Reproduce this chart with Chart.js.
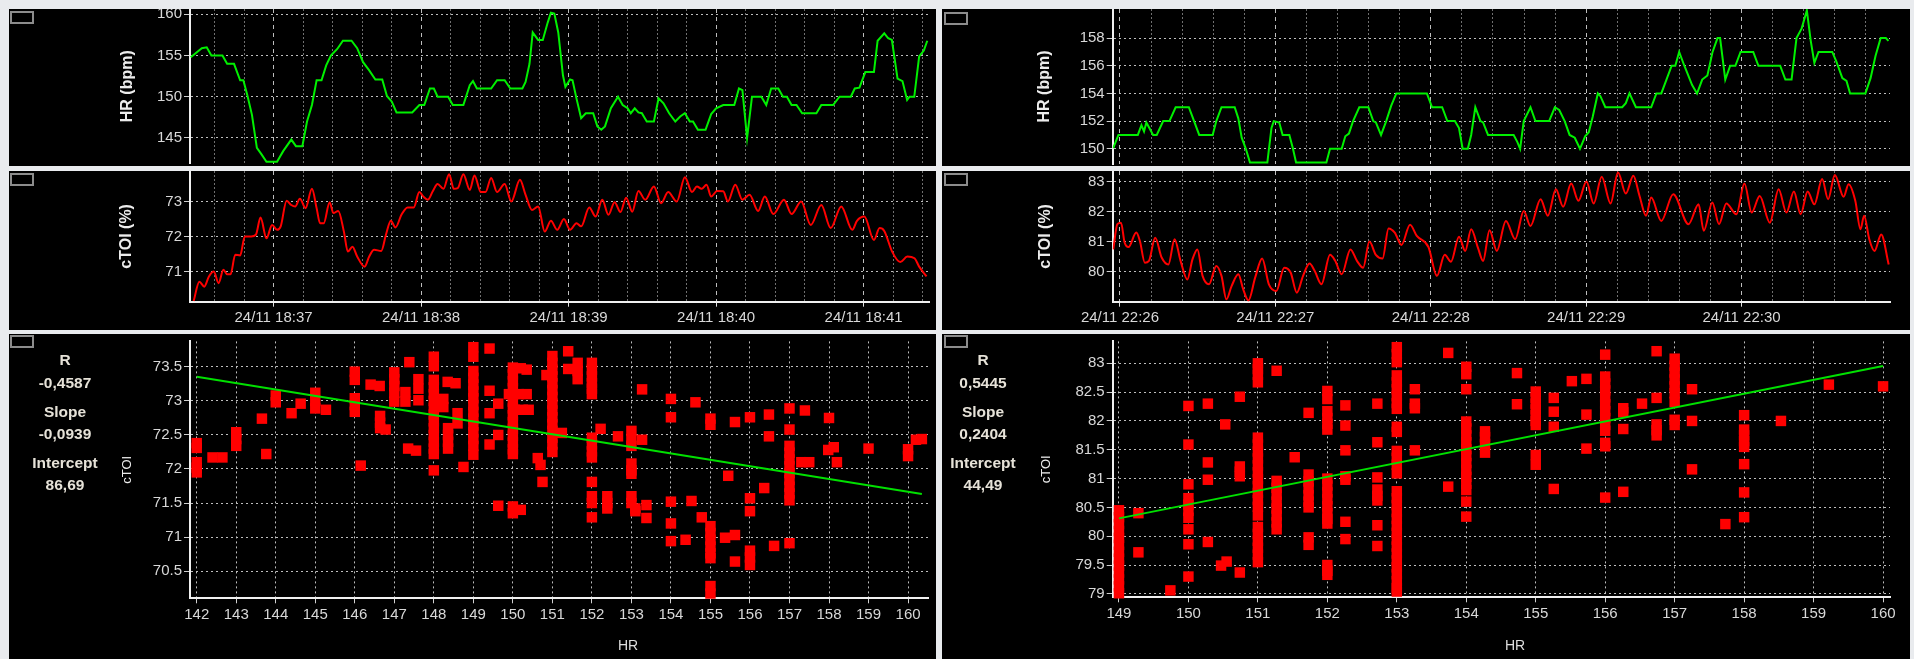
<!DOCTYPE html>
<html>
<head>
<meta charset="utf-8">
<script src="https://cdn.jsdelivr.net/npm/chart.js@4/dist/chart.umd.min.js"></script>
<style>
  html, body { margin: 0; padding: 0; }
  body { width: 1914px; height: 659px; background: #e9ebee; position: relative; overflow: hidden;
         font-family: "Liberation Sans", Arial, sans-serif; }
  .panel { position: absolute; background: #000; }
  .panel canvas { position: absolute; left: 0; top: 0; }
  .icon { position: absolute; width: 20px; height: 9px; border: 2px solid #8c8c8c; }
  .stat { position: absolute; transform: translate(-50%, -50%); color: #e6e2d8; font-weight: bold;
          font-size: 15.5px; white-space: nowrap; }
  .xtitle { position: absolute; transform: translate(-50%, -50%); color: #dedede; font-size: 14px; }
</style>
</head>
<body>

<div class="panel" style="left:9px;top:9px;width:927px;height:157px"><canvas id="hrLeft" width="927" height="157"></canvas><div class="icon" style="left:1px;top:2px"></div></div>
<div class="panel" style="left:9px;top:171px;width:927px;height:159px"><canvas id="toiLeft" width="927" height="159"></canvas><div class="icon" style="left:1px;top:2px"></div></div>
<div class="panel" style="left:9px;top:334px;width:927px;height:325px"><canvas id="scatLeft" width="927" height="325"></canvas><div class="icon" style="left:1px;top:1px"></div></div>

<div class="panel" style="left:942px;top:9px;width:968px;height:157px"><canvas id="hrRight" width="968" height="157"></canvas><div class="icon" style="left:2px;top:3px"></div></div>
<div class="panel" style="left:942px;top:171px;width:968px;height:159px"><canvas id="toiRight" width="968" height="159"></canvas><div class="icon" style="left:2px;top:2px"></div></div>
<div class="panel" style="left:942px;top:334px;width:968px;height:325px"><canvas id="scatRight" width="968" height="325"></canvas><div class="icon" style="left:2px;top:1px"></div></div>

<div id="statsLeft"></div>
<div id="statsRight"></div>
<div class="xtitle" style="left:628px;top:645px">HR</div>
<div class="xtitle" style="left:1515px;top:645px">HR</div>

<script>
// ---- Recording 1 (24/11 18:36–18:41): [seconds after 18:36:00, value] ----
const leftHr = [[26.3,154.8],[30.8,155.9],[32.8,156],[34.7,155],[39.2,155],[41.1,154],[43.9,154],[46.4,152],[47.7,152],[49.3,150.2],[51.2,147.8],[53.2,143.8],[55.1,143],[57.1,142.1],[61.4,142.1],[63.9,143.4],[67.2,144.8],[69.1,144],[71.7,144],[73.6,147],[75.6,149],[77.5,152],[79.5,152],[81.4,153.8],[83.3,155],[85.9,155.8],[88.2,156.8],[91.7,156.8],[94,155.9],[96.4,154.2],[98.9,153.2],[101.4,152.1],[104.2,152.1],[106.1,150.1],[108.1,149.4],[110,148.1],[116.4,148.1],[119.3,149],[121.3,149],[123.6,151],[125.2,151],[126.7,150],[131,150],[132.9,149],[137.2,149],[139.8,151.4],[141.1,151.9],[142.7,151],[148.5,151],[150.9,152],[154,152],[156.3,151],[161.2,151],[162.5,151.8],[164.1,154],[165.4,157.8],[167.6,156.9],[169.5,156.9],[171.5,159],[172.8,160.2],[174.2,160.1],[175.8,157.8],[177.7,152.6],[178.7,151.2],[180.6,152.1],[181.6,152],[183.2,149.8],[185.1,147.4],[187,148],[190,148],[191.7,146.4],[193.3,146],[194.8,146.4],[197.2,148.6],[200.1,150],[202,149],[204,148.6],[205.3,148],[206.9,148.6],[208.4,148.1],[209.8,148],[211.8,147],[214.7,147],[216.6,149.8],[218.6,149.2],[220.9,148],[223.4,147],[225.4,147.6],[227.3,148],[229.3,147],[230.6,147],[232.6,146],[235.7,146],[238,147.9],[240,148.6],[242.9,149],[247.4,149],[249.3,151],[250.7,150.8],[252.6,145],[254.6,150],[258.4,150],[260.4,149],[262.4,151],[265.3,151],[267.2,150],[268.8,150],[270.7,149],[272.7,149],[275,148],[280.8,148],[282.8,149],[287.6,149],[290.2,150],[294.8,150],[296.4,151],[298.3,151.1],[300.7,153],[304.2,153],[305.7,156.8],[308.4,157.7],[310,157.1],[311.5,156.9],[313.8,152.2],[315.8,151.9],[317.7,149.6],[318.7,150],[320.6,150],[322.6,154.9],[324.5,155.6],[325.9,156.8]];

const leftToi = [[27.5,70.16],[29.8,70.71],[31.8,70.57],[33.7,70.86],[35.7,71.0],[37.6,70.67],[39.6,71.05],[41.1,70.92],[42.5,70.92],[44.4,71.48],[46.4,71.46],[48.3,72.0],[50.9,72.0],[52.8,72.05],[54.7,72.54],[57.1,71.95],[59.4,72.33],[61.4,72.19],[62.9,72.29],[65.3,73.02],[67.2,72.9],[68.8,72.86],[70.7,73.08],[73,72.81],[75.6,73.36],[77.5,72.81],[78.9,72.38],[80.4,72.38],[82.8,72.98],[84.3,72.67],[86.3,72.73],[88.6,72.14],[90.2,71.57],[92.1,71.71],[94,71.43],[97,71.14],[98.9,71.43],[100.9,71.62],[103.8,71.59],[105.7,72.05],[107.7,72.45],[109.6,72.26],[112,72.62],[114.5,72.83],[117,72.83],[119.3,73.27],[120.9,73.14],[122.8,73.05],[124.8,73.3],[126.7,73.5],[129.1,73.36],[131.4,73.78],[133.3,73.36],[134.9,73.38],[137.2,73.78],[139.8,73.33],[141.7,73.74],[144.3,73.27],[146.2,73.27],[148.5,73.67],[150.9,73.27],[154,73.5],[156.7,73.0],[160.2,73.62],[162.5,73.19],[165.1,72.76],[167.6,72.86],[170.3,72.14],[172.8,72.45],[175.4,72.19],[178.1,72.5],[180.6,72.19],[183.2,72.38],[185.1,72.29],[188.4,72.83],[191,72.57],[193.7,73.05],[196.2,72.62],[198.7,72.98],[201.1,72.7],[203.4,73.11],[205.9,72.71],[208.4,73.3],[211.2,73.05],[214.7,73.43],[217.6,72.95],[220.5,73.27],[224,73.0],[227.3,73.69],[230.2,73.27],[232.2,73.43],[234.1,73.36],[236.1,73.48],[238,73.14],[240.4,73.3],[242.9,73.29],[244.8,73.0],[247.8,73.48],[250.7,73.05],[253.6,73.19],[257.1,72.73],[259.8,73.14],[263.3,72.64],[267.6,73.05],[270.7,72.64],[274.6,73.0],[278.5,72.33],[282.8,72.9],[286.6,72.24],[290.9,72.86],[295.4,72.19],[297.3,72.45],[300.3,72.57],[304.2,71.9],[306.5,72.24],[308.4,72.16],[311.6,71.57],[314.9,71.27],[317.8,71.43],[320.7,71.38],[322.6,71.14],[325.6,70.86]];

// ---- Recording 2 (24/11 22:25–22:31): [seconds after 22:25:00, value] ----
const rightHr = [[57.4,150.05],[59.4,151],[66.9,151],[68.3,151.7],[69.3,151.25],[70.2,151.9],[72.8,151],[74.2,151],[76.7,152],[79.1,152],[81.5,153],[86.6,153],[88,152.3],[90.6,151],[95.8,151],[97.2,152],[99.2,153],[104.3,153],[105.7,152.2],[107,150.8],[108.6,150],[110.2,149],[116.9,149],[118.5,151.5],[119.4,152],[121.5,151.9],[122.8,151],[125.4,151],[126.8,150],[128,149],[139.7,149],[141.1,150],[145.6,150],[147,150.9],[148.4,151.1],[150,152],[152.4,153],[155.9,153],[157.8,152],[158.8,151.9],[160.8,151],[162.8,152],[164.7,153.1],[166.7,154],[178.5,154],[180.5,153],[184.4,153],[186.4,152],[189.3,152],[190.9,151.5],[192.3,150],[194.3,150],[195.6,151],[197.2,153],[199.2,152],[200.2,151.9],[202.1,151],[212,151],[213.4,150.5],[214.5,150],[215.9,152],[218.5,153],[220.4,152],[225.7,152],[227.9,153],[229.6,152.8],[231.7,152],[233.6,151],[235.6,150.8],[237.6,150],[239.6,150.9],[241,151.2],[242.5,152.3],[244.5,154],[245.5,153.8],[247.4,153],[253.9,153],[255.3,153.3],[256.7,154],[259.2,153],[265.1,153],[267.1,154],[269,154],[271,155],[273,156],[274.4,156],[275.9,157],[277.9,156],[280.9,154.6],[282.8,154],[284.8,155],[286.8,155.3],[288.8,157],[290.7,158],[291.7,158],[293.7,155],[295.6,156],[297.6,156],[299.6,157],[304.5,157],[306.5,156],[314.9,156],[316.9,155],[319.3,155],[321.2,158],[323.2,158.7],[325.2,160],[326.7,157.8],[328.1,156.2],[329.7,157],[335,157],[336.6,156.3],[338.9,155.1],[340.5,154.9],[341.9,154],[347.8,154],[349.8,155.1],[351.7,156.7],[353.7,158],[355.7,158],[356.7,157.8]];

const rightToi = [[57.4,80.74],[59,81.58],[60.4,81.63],[61.8,80.97],[63.3,80.82],[66.3,81.3],[67.7,81.02],[69.6,80.3],[71.2,80.36],[73.6,81.13],[76.1,80.47],[78.7,80.24],[81.1,81.08],[83.4,80.36],[86,79.74],[88,80.41],[89.9,80.74],[91.9,79.86],[94.4,79.58],[97.2,80.19],[99.2,79.86],[101.1,79.08],[103.1,79.52],[105.7,79.91],[107.6,79.41],[109.6,79.04],[112.2,79.8],[114.9,80.44],[117.5,79.58],[120.4,79.36],[123.4,80.13],[125.9,79.97],[128.3,79.3],[130.7,79.86],[133.2,80.27],[135.2,80.02],[137.8,79.58],[141.1,80.56],[143.1,80.36],[145.6,79.91],[149,80.74],[151.5,80.36],[153.9,80.13],[156.3,81.0],[158.8,80.56],[161.4,80.44],[163.7,81.44],[166.1,81.3],[168.7,80.89],[172,81.56],[174.6,81.19],[179.1,80.82],[182.4,79.86],[185.4,80.56],[187.8,80.33],[190.9,81.16],[193.3,80.69],[195.6,81.41],[198.2,80.8],[200.2,80.36],[202.7,81.38],[205.5,80.69],[209,81.69],[212.6,81.08],[215.9,82.02],[218.5,81.52],[222.4,82.41],[225.2,81.86],[228.3,82.74],[231.1,82.16],[234.2,82.93],[237,82.36],[240.1,83.0],[242.9,82.27],[246,83.16],[249.4,82.27],[252.3,83.3],[255.3,82.6],[258.2,83.19],[260.6,82.52],[263.1,81.86],[265.1,82.47],[269,81.69],[273.6,82.58],[279.5,81.58],[283.4,82.24],[285.4,81.36],[288.7,82.3],[291.3,81.58],[294.1,82.27],[298,81.91],[301.1,82.93],[303.9,81.97],[307,82.52],[310.9,81.63],[314.3,82.74],[317.3,81.97],[320.2,82.67],[322.8,81.91],[325.5,82.67],[328.1,82.24],[331.1,83.08],[333.4,82.41],[336,83.22],[339.4,82.49],[341.3,82.91],[343.9,82.36],[345.9,81.41],[347.3,81.86],[349.3,81.08],[351.3,80.69],[353.9,81.24],[356.8,80.24]];

// ---- HR vs cTOI samples: [HR, [cTOI readings at that HR]] ----
const leftScatter = [
  [142, [72.38, 72.31, 72.10, 72.02, 71.95]], [142.4, [72.17]], [142.65, [72.17]],
  [143, [72.54, 72.44, 72.34]], [143.65, [72.74]], [143.76, [72.22]],
  [144, [73.08, 72.98]], [144.4, [72.82]], [144.63, [72.96]],
  [145, [73.12, 73.0, 72.89]], [145.27, [72.87]],
  [146, [73.43, 73.31, 73.04, 72.94, 72.84]], [146.15, [72.05]], [146.4, [73.24]], [146.63, [73.22]],
  [146.64, [72.78, 72.68, 72.6]], [146.78, [72.58]],
  [147, [73.42, 73.32, 73.22, 73.12, 72.99]], [147.28, [73.13, 72.99]], [147.38, [73.57]],
  [147.61, [73.32, 73.18, 73.01]], [147.35, [72.3]], [147.55, [72.27]],
  [148, [73.65, 73.51, 73.31, 73.2, 73.1, 73.0, 72.9, 72.8, 72.7, 72.6, 72.5, 72.4, 72.3, 72.22, 71.98]],
  [148.24, [73.03, 72.91]], [148.35, [73.28]], [148.55, [73.26]], [148.36, [72.6, 72.5, 72.4, 72.3]],
  [148.6, [72.82, 72.67]], [148.75, [72.03]],
  [149, [73.79, 73.65, 73.44, 73.34, 73.24, 73.14, 73.04, 72.94, 72.84, 72.74, 72.64, 72.54, 72.44, 72.34, 72.21]],
  [149.41, [73.77, 73.15, 72.82, 72.36]], [149.63, [72.96, 72.5, 71.46]],
  [149.9, [73.1]], [150.15, [73.1]], [150.35, [73.1]], [150.05, [72.87]], [150.25, [72.87]], [150.4, [72.87]],
  [150, [73.49, 73.39, 73.29, 73.19, 73.09, 72.99, 72.89, 72.79, 72.69, 72.59, 72.49, 72.39, 72.29, 72.22, 71.45, 71.35]],
  [150.2, [73.48, 71.4]], [150.35, [73.46]], [150.63, [72.16]], [150.7, [72.06]], [150.75, [71.81]], [150.85, [73.38]],
  [151, [73.66, 73.56, 73.46, 73.36, 73.26, 73.16, 73.06, 72.96, 72.86, 72.76, 72.66, 72.56, 72.46, 72.36, 72.25]],
  [151.24, [72.53]], [151.4, [73.73, 73.47]], [151.64, [73.56, 73.44, 73.32]],
  [152, [73.56, 73.46, 73.36, 73.26, 73.18, 73.1, 72.46, 72.36, 72.26, 72.17, 71.81, 71.6, 71.5, 71.29]],
  [152.22, [72.59]], [152.39, [71.6, 71.5, 71.42]], [152.66, [72.48]],
  [153, [72.56, 72.44, 72.34, 72.08, 71.98, 71.93, 71.6, 71.5]], [153.1, [71.42, 71.38]],
  [153.27, [73.17, 72.43]], [153.38, [71.47, 71.28]],
  [154, [73.03, 72.76, 71.52, 71.2, 70.94]], [154.37, [70.96]], [154.52, [71.53]], [154.62, [72.98]], [154.78, [71.29]],
  [155, [72.74, 72.65, 71.16, 71.06, 70.96, 70.86, 70.76, 70.69, 70.28, 70.17]],
  [155.37, [70.99]], [155.45, [71.9]], [155.62, [72.69, 71.03, 70.64]],
  [156, [72.76, 71.57, 71.38, 70.8, 70.7, 70.59]], [156.36, [71.72]], [156.48, [72.8, 72.48]], [156.61, [70.87]],
  [157, [72.89, 72.58, 72.34, 72.24, 72.14, 72.04, 71.94, 71.84, 71.74, 71.64, 71.54, 70.91]],
  [157.39, [72.86]], [157.3, [72.1]], [157.5, [72.1]],
  [158, [72.75]], [157.98, [72.28]], [158.12, [72.32]], [158.2, [72.1]],
  [159, [72.3]], [160, [72.29, 72.19]], [160.2, [72.43]], [160.35, [72.44]]
];

const rightScatter = [
  [149, [80.45, 80.33, 80.21, 80.09, 79.97, 79.85, 79.73, 79.61, 79.49, 79.37, 79.25, 79.13, 79.01]],
  [149.28, [80.4, 79.72]], [149.74, [79.06]],
  [150, [82.26, 81.59, 80.9, 80.66, 80.55, 80.44, 80.32, 80.12, 79.86, 79.3]],
  [150.28, [82.3, 81.28, 80.98, 79.9]], [150.47, [79.49]], [150.53, [81.94]], [150.55, [79.56]],
  [150.74, [82.42, 81.21, 81.12, 81.04, 79.37]],
  [151, [83.0, 82.9, 82.8, 82.67, 81.71, 81.59, 81.47, 81.35, 81.23, 81.11, 80.99, 80.87, 80.75, 80.63, 80.51, 80.36, 80.16, 80.04, 79.92, 79.8, 79.68, 79.55]],
  [151.27, [82.87, 80.96, 80.84, 80.72, 80.6, 80.48, 80.36, 80.24, 80.12]],
  [151.53, [81.37]],
  [151.73, [82.14, 81.07, 80.95, 80.83, 80.71, 80.6, 80.5, 79.98, 79.85]],
  [152, [82.52, 82.38, 82.17, 82.05, 81.95, 81.85, 81.0, 80.88, 80.76, 80.64, 80.52, 80.4, 80.3, 80.22, 79.5, 79.4, 79.33]],
  [152.26, [82.27, 81.92, 81.49, 81.04, 80.98, 80.25, 79.95]],
  [152.72, [82.3, 81.63, 81.02, 80.81, 80.7, 80.62, 80.19, 79.83]],
  [153, [83.28, 83.16, 83.02, 82.79, 82.67, 82.55, 82.43, 82.31, 82.21, 81.9, 81.81, 81.48, 81.36, 81.24, 81.09, 80.78, 80.66, 80.54, 80.42, 80.3, 80.18, 80.06, 79.94, 79.82, 79.7, 79.58, 79.46, 79.34, 79.22, 79.1, 79.04]],
  [153.26, [82.55, 82.3, 82.22, 81.49]], [153.74, [83.18, 80.86]],
  [154, [82.94, 82.81, 82.55, 81.99, 81.87, 81.75, 81.63, 81.51, 81.39, 81.27, 81.15, 81.03, 80.91, 80.8, 80.6, 80.34]],
  [154.27, [81.82, 81.72, 81.6, 81.45]], [154.73, [82.83, 82.29]],
  [155, [82.51, 82.4, 82.3, 82.2, 82.1, 82.0, 81.93, 81.41, 81.24]],
  [155.26, [82.4, 82.16, 81.9, 80.82]], [155.52, [82.69]], [155.73, [82.73, 82.11, 81.52]],
  [156, [83.15, 82.77, 82.65, 82.53, 82.41, 82.29, 82.17, 82.05, 81.93, 81.83, 81.62, 81.56, 80.67]],
  [156.26, [82.22, 82.15, 81.86, 80.77]], [156.53, [82.3]], [156.74, [83.21, 82.4, 81.94, 81.84, 81.75]],
  [157, [83.08, 82.96, 82.84, 82.72, 82.6, 82.48, 82.33, 82.02, 81.93]],
  [157.25, [82.55, 82.0, 81.16]], [157.73, [80.21]],
  [158, [82.1, 81.85, 81.75, 81.65, 81.55, 81.25, 80.76, 80.33]],
  [158.53, [82.0]], [159.22, [82.63]], [160, [82.6]]
];

// Regression results
const leftR = -0.4587, leftSlope = -0.0939, leftIntercept = 86.69;
const rightR = 0.5445, rightSlope = 0.2404, rightIntercept = 44.49;

// Axis ticks and labels
const minuteMarks = [60, 120, 180, 240, 300];
const leftClock = ['24/11 18:37', '24/11 18:38', '24/11 18:39', '24/11 18:40', '24/11 18:41'];
const rightClock = ['24/11 22:26', '24/11 22:27', '24/11 22:28', '24/11 22:29', '24/11 22:30'];
const hrTicksLeft = [145, 150, 155, 160];
const hrTicksRight = [150, 152, 154, 156, 158];
const toiTicksLeft = [71, 72, 73];
const toiTicksRight = [80, 81, 82, 83];
const scatYTicksLeft = [70.5, 71, 71.5, 72, 72.5, 73, 73.5];
const scatYTicksRight = [79, 79.5, 80, 80.5, 81, 81.5, 82, 82.5, 83];
const scatXTicksLeft = [142,143,144,145,146,147,148,149,150,151,152,153,154,155,156,157,158,159,160];
const scatXTicksRight = [149,150,151,152,153,154,155,156,157,158,159,160];

const FONT = '"Liberation Sans", Arial, sans-serif';
const TICK_TEXT = '#d8d8d8';
const GRID_LIGHT = '#bdbdbd';
const GRID_DIM = '#707070';
const AXIS = '#f0f0f0';
const GRID_STEP = 12;

const fixY = w => s => { s.width = w; s.paddingTop = 0; s.paddingBottom = 0; };
const fixX = h => s => { s.height = h; s.paddingLeft = 0; s.paddingRight = 0; };
const isMinute = c => !!(c.tick && c.tick.value % 60 === 0);

function yAxis(cfg, titleFont) {
  return {
    min: cfg.yMin, max: cfg.yMax,
    afterBuildTicks: s => { s.ticks = cfg.yTicks.map(value => ({value})); },
    afterFit: fixY(cfg.yWidth),
    ticks: {color: TICK_TEXT, font: {family: FONT, size: 15}, padding: 2, callback: v => String(v)},
    grid: {color: GRID_LIGHT, lineWidth: 1, tickLength: 6, tickColor: '#d0d0d0', tickBorderDash: []},
    border: {color: AXIS, width: 2, dash: [2, 3]},
    title: {display: true, text: cfg.title, color: '#ececec', font: titleFont,
            padding: {top: cfg.titleX - titleFont.size * 0.6, bottom: 0}}
  };
}

function timeChart(id, cfg) {
  const gridTicks = [];
  for (let v = Math.ceil(cfg.xMin / GRID_STEP) * GRID_STEP; v <= cfg.xMax; v += GRID_STEP) gridTicks.push(v);
  const withLabels = !!cfg.clock;
  new Chart(document.getElementById(id), {
    type: 'line',
    data: {datasets: [{
      data: cfg.series.map(p => ({x: p[0], y: p[1]})),
      borderColor: cfg.color, borderWidth: 2, pointRadius: 0, fill: false,
      tension: cfg.smooth ? 0.4 : 0, cubicInterpolationMode: cfg.smooth ? 'monotone' : 'default'
    }]},
    options: {
      responsive: false, animation: false, devicePixelRatio: 1, events: [],
      layout: {padding: {left: 0, top: cfg.padTop, right: cfg.padRight, bottom: 0}},
      plugins: {legend: {display: false}, tooltip: {enabled: false}},
      scales: {
        x: {
          type: 'linear', min: cfg.xMin, max: cfg.xMax,
          afterBuildTicks: s => { s.ticks = gridTicks.map(value => ({value})); },
          afterFit: fixX(cfg.xHeight),
          ticks: {display: withLabels, autoSkip: false, maxRotation: 0, minRotation: 0, padding: 2,
                  color: TICK_TEXT, font: {family: FONT, size: 15},
                  callback: v => { const k = minuteMarks.indexOf(v); return (k >= 0 && withLabels) ? cfg.clock[k] : ''; }},
          grid: {color: c => isMinute(c) ? GRID_LIGHT : GRID_DIM, lineWidth: 1,
                 drawTicks: withLabels, tickLength: 5, tickBorderDash: [],
                 tickColor: c => isMinute(c) ? '#e0e0e0' : 'rgba(0,0,0,0)'},
          border: {display: withLabels, color: AXIS, width: 2, dash: c => isMinute(c) ? [4, 4] : [2, 2]}
        },
        y: yAxis(cfg, {family: FONT, size: 16, weight: 'bold'})
      }
    }
  });
}

function scatterChart(id, cfg) {
  const pts = [];
  cfg.columns.forEach(([hr, list]) => list.forEach(v => pts.push({x: hr, y: v})));
  const hrs = cfg.columns.map(c => c[0]);
  const x0 = Math.min(...hrs), x1 = Math.max(...hrs);
  const fitLine = [{x: x0, y: cfg.intercept + cfg.slope * x0}, {x: x1, y: cfg.intercept + cfg.slope * x1}];
  new Chart(document.getElementById(id), {
    type: 'scatter',
    data: {datasets: [
      {type: 'line', data: fitLine, borderColor: '#00e000', borderWidth: 2, pointRadius: 0, fill: false, order: 0},
      {data: pts, pointStyle: 'rect', pointRadius: 7.4, pointBackgroundColor: '#ff0000', backgroundColor: '#ff0000',
       pointBorderWidth: 0, borderWidth: 0, order: 1, clip: false}
    ]},
    options: {
      responsive: false, animation: false, devicePixelRatio: 1, events: [],
      layout: {padding: {left: 0, top: cfg.padTop, right: cfg.padRight, bottom: 0}},
      plugins: {legend: {display: false}, tooltip: {enabled: false}},
      scales: {
        x: {
          type: 'linear', min: cfg.xMin, max: cfg.xMax,
          afterBuildTicks: s => { s.ticks = cfg.xTicks.map(value => ({value})); },
          afterFit: fixX(cfg.xHeight),
          ticks: {autoSkip: false, maxRotation: 0, minRotation: 0, padding: 3, color: TICK_TEXT,
                  font: {family: FONT, size: 15}, callback: v => String(v)},
          grid: {color: GRID_LIGHT, lineWidth: 1, tickLength: 5, tickColor: '#d0d0d0', tickBorderDash: []},
          border: {color: AXIS, width: 2, dash: [2, 3]}
        },
        y: yAxis(cfg, {family: FONT, size: 13, weight: 'normal'})
      }
    }
  });
}

timeChart('hrLeft', {series: leftHr, color: '#00f000', smooth: false, xMin: 26, xMax: 326.6,
  yMin: 141.9, yMax: 160.65, yTicks: hrTicksLeft, yWidth: 181, padTop: 0, padRight: 7, xHeight: 2.5,
  title: 'HR (bpm)', titleX: 119});
timeChart('toiLeft', {series: leftToi, color: '#ff0000', smooth: true, xMin: 26, xMax: 326.6, clock: leftClock,
  yMin: 70.14, yMax: 73.87, yTicks: toiTicksLeft, yWidth: 181, padTop: 0, padRight: 7, xHeight: 28.3,
  title: 'cTOI (%)', titleX: 118});
timeChart('hrRight', {series: rightHr, color: '#00f000', smooth: false, xMin: 57.2, xMax: 357.3,
  yMin: 148.9, yMax: 160.1, yTicks: hrTicksRight, yWidth: 170.7, padTop: 0, padRight: 20, xHeight: 2,
  title: 'HR (bpm)', titleX: 103});
timeChart('toiRight', {series: rightToi, color: '#ff0000', smooth: true, xMin: 57.2, xMax: 357.3, clock: rightClock,
  yMin: 79.0, yMax: 83.35, yTicks: toiTicksRight, yWidth: 170.7, padTop: 0, padRight: 20, xHeight: 28.3,
  title: 'cTOI (%)', titleX: 104});

scatterChart('scatLeft', {columns: leftScatter, slope: leftSlope, intercept: leftIntercept,
  xMin: 141.83, xMax: 160.52, xTicks: scatXTicksLeft, yMin: 70.10, yMax: 73.875, yTicks: scatYTicksLeft,
  yWidth: 181, padTop: 2.7, padRight: 7, xHeight: 60.7, title: 'cTOI', titleX: 118});
scatterChart('scatRight', {columns: rightScatter, slope: rightSlope, intercept: rightIntercept,
  xMin: 148.91, xMax: 160.1, xTicks: scatXTicksRight, yMin: 78.94, yMax: 83.38, yTicks: scatYTicksRight,
  yWidth: 170.7, padTop: 2.7, padRight: 20, xHeight: 61.7, title: 'cTOI', titleX: 104.7});

// Regression summary beside each scatter plot
const comma = (v, d) => v.toFixed(d).replace('.', ',');
function stats(id, cx, r, slope, intercept) {
  const rows = [['R', 360], [comma(r, 4), 383], ['Slope', 412], [comma(slope, 4), 434],
                ['Intercept', 463], [comma(intercept, 2), 485]];
  const host = document.getElementById(id);
  rows.forEach(([text, y]) => {
    const d = document.createElement('div');
    d.className = 'stat';
    d.style.left = cx + 'px';
    d.style.top = y + 'px';
    d.textContent = text;
    host.appendChild(d);
  });
}
stats('statsLeft', 65, leftR, leftSlope, leftIntercept);
stats('statsRight', 983, rightR, rightSlope, rightIntercept);
</script>
</body>
</html>
